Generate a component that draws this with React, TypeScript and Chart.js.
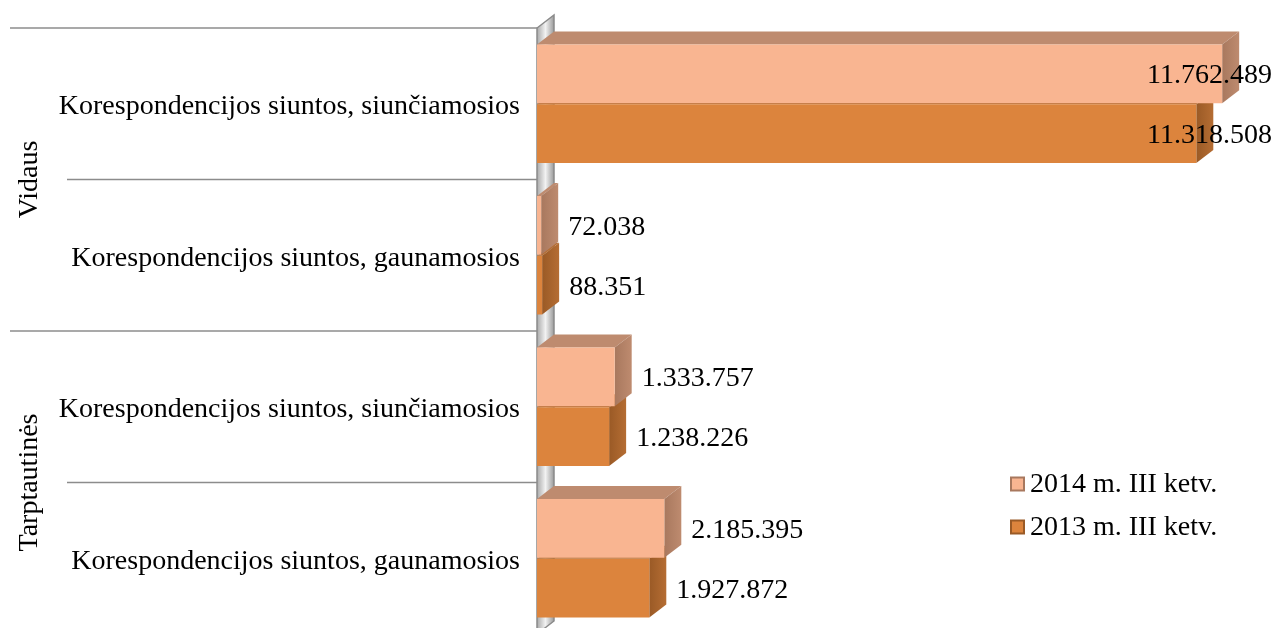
import React, { useEffect, useRef } from 'react';
import { Chart, registerables } from 'chart.js';
Chart.register(...registerables);

const categories = [
  'Korespondencijos siuntos, siunčiamosios',
  'Korespondencijos siuntos, gaunamosios',
  'Korespondencijos siuntos, siunčiamosios',
  'Korespondencijos siuntos, gaunamosios',
];
const groupLabels = ['Vidaus', 'Tarptautinės'];
const groupSizes = [2, 2];
const seriesLabels = ['2014 m. III ketv.', '2013 m. III ketv.'];
const values2014 = [11762489, 72038, 1333757, 2185395];
const values2013 = [11318508, 88351, 1238226, 1927872];
const axisMax = 12000000;

const FONT = '"Liberation Serif", "Times New Roman", serif';
const DX = 17;
const DY = 13;
const colors = [
  { front: '#F9B591', top: '#BE8B6F', side: '#A8785E', hi: '#FDC4A3' },
  { front: '#DC843D', top: '#B56D33', side: '#9A5A26', hi: '#E99550' },
];

const fmt = (v: number) => String(v).replace(/\B(?=(\d{3})+(?!\d))/g, '.');

const poly = (ctx: CanvasRenderingContext2D, pts: number[][], fill: string | CanvasGradient) => {
  ctx.beginPath();
  ctx.moveTo(pts[0][0], pts[0][1]);
  for (let i = 1; i < pts.length; i++) ctx.lineTo(pts[i][0], pts[i][1]);
  ctx.closePath();
  ctx.fillStyle = fill;
  ctx.fill();
};

const bar3d = {
  id: 'bar3d',
  beforeDatasetsDraw(chart: any) {
    const ctx: CanvasRenderingContext2D = chart.ctx;
    const { left, top, bottom } = chart.chartArea;
    ctx.save();
    // side wall
    const g = ctx.createLinearGradient(left, 0, left + DX, 0);
    g.addColorStop(0, '#a9a9a9');
    g.addColorStop(0.5, '#f2f2f2');
    g.addColorStop(1, '#9a9a9a');
    poly(ctx, [[left, top], [left + DX, top - DY], [left + DX, bottom - DY], [left, bottom]], g);
    ctx.strokeStyle = '#8a8a8a';
    ctx.lineWidth = 1.5;
    ctx.beginPath();
    ctx.moveTo(left, bottom);
    ctx.lineTo(left, top);
    ctx.lineTo(left + DX, top - DY);
    ctx.lineTo(left + DX, bottom - DY);
    ctx.lineTo(left, bottom);
    ctx.stroke();

    // category separator lines
    const ys = chart.scales.y;
    const n = categories.length;
    const bounds: number[] = [];
    for (let i = 0; i <= n; i++) {
      if (i === 0) bounds.push(top);
      else if (i === n) bounds.push(bottom);
      else bounds.push((ys.getPixelForValue(i - 1) + ys.getPixelForValue(i)) / 2);
    }
    const groupStarts = new Set<number>();
    let acc = 0;
    groupStarts.add(0);
    groupSizes.forEach((s) => { acc += s; groupStarts.add(acc); });
    ctx.strokeStyle = '#8c8c8c';
    ctx.lineWidth = 1.5;
    bounds.forEach((y, i) => {
      ctx.beginPath();
      ctx.moveTo(groupStarts.has(i) ? 10 : 67, y);
      ctx.lineTo(left, y);
      ctx.stroke();
    });
    // group labels
    ctx.fillStyle = '#000';
    ctx.font = `28px ${FONT}`;
    ctx.textAlign = 'center';
    ctx.textBaseline = 'middle';
    let gi = 0;
    groupSizes.forEach((s, k) => {
      const y0 = bounds[gi];
      const y1 = bounds[gi + s];
      gi += s;
      ctx.save();
      ctx.translate(30, (y0 + y1) / 2);
      ctx.rotate(-Math.PI / 2);
      ctx.fillText(groupLabels[k], 0, 0);
      ctx.restore();
    });

    // 3D top & side faces, back datasets first
    for (let d = chart.data.datasets.length - 1; d >= 0; d--) {
      const meta = chart.getDatasetMeta(d);
      const c = colors[d];
      meta.data.forEach((el: any) => {
        const { x, y, base, height } = el.getProps(['x', 'y', 'base', 'height'], true);
        const t = y - height / 2;
        const b = y + height / 2;
        poly(ctx, [[base, t], [base + DX, t - DY], [x + DX, t - DY], [x, t]], c.top);
        const sg = ctx.createLinearGradient(x, 0, x + DX, 0);
        sg.addColorStop(0, c.side);
        sg.addColorStop(1, c.top);
        poly(ctx, [[x, t], [x + DX, t - DY], [x + DX, b - DY], [x, b]], sg);
      });
    }
    ctx.restore();
  },
  afterDatasetsDraw(chart: any) {
    const ctx: CanvasRenderingContext2D = chart.ctx;
    ctx.save();
    ctx.font = `28px ${FONT}`;
    ctx.fillStyle = '#000';
    ctx.textAlign = 'left';
    ctx.textBaseline = 'middle';
    chart.data.datasets.forEach((ds: any, d: number) => {
      const meta = chart.getDatasetMeta(d);
      meta.data.forEach((el: any, i: number) => {
        const { x, y } = el.getProps(['x', 'y'], true);
        const txt = fmt(ds.data[i]);
        const w = ctx.measureText(txt).width;
        let lx = x + DX + 10;
        if (lx + w > chart.width - 4) lx = chart.width - 4 - w;
        ctx.fillText(txt, lx, y + 2);
      });
    });
    // legend
    const lx = 1010;
    const ly = [484, 527];
    chart.data.datasets.forEach((ds: any, d: number) => {
      const c = colors[d];
      const y = ly[d];
      const s = 15;
      ctx.fillStyle = c.side;
      ctx.fillRect(lx, y - s / 2, s, s);
      ctx.fillStyle = c.front;
      ctx.fillRect(lx + 2, y - s / 2 + 2, s - 4, s - 4);
      ctx.fillStyle = '#000';
      ctx.fillText(ds.label, lx + 20, y + 1);
    });
    ctx.restore();
  },
};

export default function App() {
  const ref = useRef<HTMLCanvasElement>(null);
  useEffect(() => {
    document.body.style.margin = '0';
    const frontFill = (d: number) => (ctx: any) => {
      const el = ctx.element;
      const chart = ctx.chart;
      if (!el || el.height == null) return colors[d].front;
      const { y, height } = el.getProps(['y', 'height'], true);
      if (!isFinite(y) || !height) return colors[d].front;
      const g = chart.ctx.createLinearGradient(0, y - height / 2, 0, y + height / 2);
      g.addColorStop(0, colors[d].hi);
      g.addColorStop(0.08, colors[d].front);
      g.addColorStop(0.92, colors[d].front);
      g.addColorStop(1, colors[d].side);
      return g;
    };
    const chart = new Chart(ref.current!, {
      type: 'bar',
      data: {
        labels: categories,
        datasets: [
          { label: seriesLabels[0], data: values2014, backgroundColor: frontFill(0), borderWidth: 0 },
          { label: seriesLabels[1], data: values2013, backgroundColor: frontFill(1), borderWidth: 0 },
        ],
      },
      options: {
        indexAxis: 'y',
        animation: false,
        responsive: false,
        maintainAspectRatio: false,
        layout: { padding: { top: 28, right: 40, bottom: 0, left: 0 } },
        datasets: { bar: { categoryPercentage: 0.79, barPercentage: 0.98 } },
        plugins: { legend: { display: false }, tooltip: { enabled: false } },
        scales: {
          x: { type: 'linear', min: 0, max: axisMax, display: false },
          y: {
            type: 'category',
            grid: { display: false, drawTicks: false },
            border: { display: false },
            ticks: { font: { family: FONT, size: 28 }, color: '#000', padding: 17, labelOffset: 3 },
            afterFit: (scale: any) => {
              scale.width = 537;
              scale.paddingTop = 0;
              scale.paddingBottom = 0;
            },
          },
        },
      },
      plugins: [bar3d],
    });
    return () => chart.destroy();
  }, []);
  return (
    <div style={{ width: 1276, height: 628, overflow: 'hidden' }}>
      <canvas ref={ref} width={1276} height={634} style={{ display: 'block' }} />
    </div>
  );
}
